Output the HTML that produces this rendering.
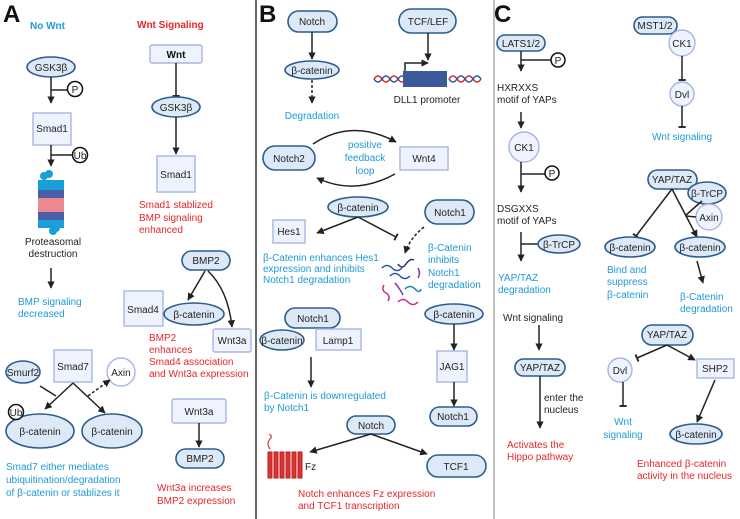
<!DOCTYPE html>
<html><head><meta charset="utf-8"><style>
html,body{margin:0;padding:0;background:#fff}
svg{display:block;font-family:"Liberation Sans",Arial,sans-serif}
.e{fill:#dde9f6;stroke:#2c5d8e;stroke-width:1.6}
.b{fill:#eef3fd;stroke:#a7b5e6;stroke-width:1.4}
.c{fill:#eef3fd;stroke:#a7b5e6;stroke-width:1.4}
.l{stroke:#222;stroke-width:1.5;fill:none}
.t{font-size:10px;fill:#222}
.bl{font-size:10px;fill:#1e9ad6}
.rd{font-size:10px;fill:#e8262a}
</style></head><body>
<svg width="740" height="519" viewBox="0 0 740 519" xmlns="http://www.w3.org/2000/svg">
<defs>
<marker id="a" viewBox="0 0 10 10" refX="9" refY="5" markerWidth="5" markerHeight="5" orient="auto"><path d="M0,0L10,5L0,10z" fill="#222"/></marker>
<marker id="t" viewBox="0 0 10 10" refX="5" refY="5" markerWidth="5" markerHeight="5" orient="auto"><path d="M5,0V10" stroke="#222" stroke-width="2.5"/></marker>
</defs>
<line x1="256" y1="0" x2="256" y2="519" stroke="#333" stroke-width="1.5"/>
<line x1="494" y1="0" x2="494" y2="519" stroke="#aaa" stroke-width="1.5"/>

<!-- Panel A -->
<text x="3" y="22" font-size="24" font-weight="bold" fill="#111">A</text>
<text x="30" y="29" font-size="10" font-weight="bold" fill="#1e9ad6">No Wnt</text>
<text x="137" y="28" font-size="10" font-weight="bold" fill="#e8262a">Wnt Signaling</text>
<ellipse class="e" cx="51" cy="67" rx="24" ry="10"/><text class="t" x="51" y="71" text-anchor="middle">GSK3β</text>
<line class="l" x1="51" y1="77" x2="51" y2="103" marker-end="url(#a)"/>
<line class="l" x1="51" y1="90" x2="68" y2="90"/>
<circle cx="75" cy="89" r="7.5" fill="#fff" stroke="#111" stroke-width="1.5"/><text class="t" x="75" y="93" text-anchor="middle">P</text>
<rect class="b" x="33" y="113" width="38" height="32"/><text class="t" x="52" y="132" text-anchor="middle">Smad1</text>
<line class="l" x1="51" y1="145" x2="51" y2="166" marker-end="url(#a)"/>
<line class="l" x1="51" y1="155" x2="72" y2="155"/>
<circle cx="80" cy="155" r="7.5" fill="#fff" stroke="#111" stroke-width="1.5"/><text class="t" x="80" y="159" text-anchor="middle">Ub</text>
<g>
<rect x="38" y="180" width="26" height="10" fill="#1aa0d8"/>
<rect x="38" y="190" width="26" height="8" fill="#4a5fa8"/>
<rect x="38" y="198" width="26" height="14" fill="#ee8a8f"/>
<rect x="38" y="212" width="26" height="8" fill="#4a5fa8"/>
<rect x="38" y="220" width="26" height="8" fill="#1aa0d8"/>
<circle cx="44" cy="176" r="4" fill="#1aa0d8"/><circle cx="49" cy="174" r="4" fill="#1aa0d8"/>
<circle cx="56" cy="228" r="4" fill="#1aa0d8"/><circle cx="53" cy="231" r="4" fill="#1aa0d8"/>
</g>
<text class="t" x="53" y="245" text-anchor="middle">Proteasomal</text>
<text class="t" x="53" y="257" text-anchor="middle">destruction</text>
<line class="l" x1="51" y1="268" x2="51" y2="288" marker-end="url(#a)"/>
<text class="bl" x="18" y="305">BMP signaling</text>
<text class="bl" x="18" y="317">decreased</text>

<rect class="b" x="150" y="45" width="52" height="18" rx="2"/><text x="176" y="58" font-size="10" font-weight="bold" fill="#111" text-anchor="middle">Wnt</text>
<line class="l" x1="176" y1="63" x2="176" y2="96" marker-end="url(#t)"/>
<ellipse class="e" cx="176" cy="107" rx="24" ry="10"/><text class="t" x="176" y="111" text-anchor="middle">GSK3β</text>
<line class="l" x1="176" y1="117" x2="176" y2="154" marker-end="url(#a)"/>
<rect class="b" x="157" y="156" width="38" height="36"/><text class="t" x="176" y="178" text-anchor="middle">Smad1</text>
<text class="rd" x="139" y="208">Smad1 stablized</text>
<text class="rd" x="139" y="221">BMP signaling</text>
<text class="rd" x="139" y="233">enhanced</text>

<rect class="e" x="182" y="251" width="48" height="19" rx="9.5"/><text class="t" x="206" y="264" text-anchor="middle">BMP2</text>
<rect class="b" x="124" y="291" width="39" height="35"/><text class="t" x="143" y="313" text-anchor="middle">Smad4</text>
<ellipse class="e" cx="194" cy="314" rx="30" ry="11"/><text class="t" x="194" y="318" text-anchor="middle">β-catenin</text>
<line class="l" x1="205" y1="271" x2="188" y2="300" marker-end="url(#a)"/>
<path class="l" d="M208,271 Q228,290 232,327" marker-end="url(#a)"/>
<rect class="b" x="213" y="329" width="38" height="23" rx="2"/><text class="t" x="232" y="344" text-anchor="middle">Wnt3a</text>
<text class="rd" x="149" y="341">BMP2</text>
<text class="rd" x="149" y="353">enhances</text>
<text class="rd" x="149" y="365">Smad4 association</text>
<text class="rd" x="149" y="377">and Wnt3a expression</text>
<rect class="b" x="172" y="399" width="54" height="24" rx="2"/><text class="t" x="199" y="415" text-anchor="middle">Wnt3a</text>
<line class="l" x1="199" y1="423" x2="199" y2="447" marker-end="url(#a)"/>
<rect class="e" x="176" y="449" width="48" height="19" rx="9.5"/><text class="t" x="200" y="462" text-anchor="middle">BMP2</text>
<text class="rd" x="157" y="491">Wnt3a increases</text>
<text class="rd" x="157" y="504">BMP2 expression</text>

<ellipse class="e" cx="23" cy="372" rx="17" ry="11"/><text class="t" x="23" y="376" text-anchor="middle">Smurf2</text>
<rect class="b" x="54" y="350" width="38" height="32"/><text class="t" x="73" y="370" text-anchor="middle">Smad7</text>
<circle cx="121" cy="372" r="14" fill="#fff" stroke="#a7b5e6" stroke-width="1.4"/><text class="t" x="121" y="376" text-anchor="middle">Axin</text>
<line class="l" x1="40" y1="386" x2="56" y2="396"/>
<line class="l" x1="73" y1="383" x2="45" y2="409" marker-end="url(#a)"/>
<line class="l" x1="73" y1="383" x2="105" y2="413" marker-end="url(#a)"/>
<line class="l" x1="88" y1="396" x2="110" y2="380" stroke-dasharray="3,2" marker-end="url(#a)"/>
<ellipse class="e" cx="40" cy="431" rx="34" ry="17"/><text class="t" x="40" y="435" text-anchor="middle">β-catenin</text>
<ellipse class="e" cx="112" cy="431" rx="30" ry="17"/><text class="t" x="112" y="435" text-anchor="middle">β-catenin</text>
<circle cx="16" cy="412" r="7.5" fill="#fff" stroke="#111" stroke-width="1.5"/><text class="t" x="16" y="416" text-anchor="middle">Ub</text>
<text class="bl" x="6" y="470" font-size="10.5">Smad7 either mediates</text>
<text class="bl" x="6" y="483" font-size="10.5">ubiquitination/degradation</text>
<text class="bl" x="6" y="496" font-size="10.5">of β-catenin or stablizes it</text>

<!-- Panel B -->
<text x="259" y="22" font-size="24" font-weight="bold" fill="#111">B</text>
<rect class="e" x="288" y="11" width="49" height="21" rx="10.5"/><text class="t" x="312" y="25" text-anchor="middle">Notch</text>
<line class="l" x1="312" y1="32" x2="312" y2="59" marker-end="url(#a)"/>
<ellipse class="e" cx="312" cy="70" rx="27" ry="9"/><text class="t" x="312" y="74" text-anchor="middle">β-catenin</text>
<line class="l" x1="312" y1="80" x2="312" y2="103" stroke-dasharray="3,2" marker-end="url(#a)"/>
<text class="bl" x="312" y="119" text-anchor="middle">Degradation</text>
<rect class="e" x="399" y="9" width="57" height="24" rx="12"/><text class="t" x="428" y="25" text-anchor="middle">TCF/LEF</text>
<line class="l" x1="428" y1="33" x2="428" y2="60" marker-end="url(#a)"/>
<path d="M374,79 q4,-6 8,0 t8,0 t8,0 t8,0 M449,79 q4,-6 8,0 t8,0 t8,0 t8,0" stroke="#d22" stroke-width="1.5" fill="none"/>
<path d="M374,79 q4,6 8,0 t8,0 t8,0 t8,0 M449,79 q4,6 8,0 t8,0 t8,0 t8,0" stroke="#2356a6" stroke-width="1.5" fill="none"/>
<rect x="403" y="71" width="44" height="16" fill="#3c5a99"/>
<path d="M405,71 V63 H428" class="l" stroke-width="1" marker-end="url(#a)"/>
<text class="t" x="427" y="103" text-anchor="middle" font-size="10.5">DLL1 promoter</text>
<rect class="e" x="263" y="146" width="52" height="24" rx="12"/><text class="t" x="289" y="162" text-anchor="middle">Notch2</text>
<rect class="b" x="400" y="147" width="48" height="23"/><text class="t" x="424" y="162" text-anchor="middle">Wnt4</text>
<path class="l" d="M313,144 Q352,118 396,142" marker-end="url(#a)"/>
<path class="l" d="M395,174 Q355,196 317,178" marker-end="url(#a)"/>
<text class="bl" x="365" y="148" text-anchor="middle">positive</text>
<text class="bl" x="365" y="161" text-anchor="middle">feedback</text>
<text class="bl" x="365" y="174" text-anchor="middle">loop</text>
<ellipse class="e" cx="358" cy="207" rx="30" ry="10"/><text class="t" x="358" y="211" text-anchor="middle">β-catenin</text>
<line class="l" x1="358" y1="217" x2="317" y2="233" marker-end="url(#a)"/>
<line class="l" x1="358" y1="217" x2="396" y2="237" marker-end="url(#t)"/>
<rect class="b" x="273" y="220" width="32" height="23"/><text class="t" x="289" y="235" text-anchor="middle">Hes1</text>
<rect class="e" x="425" y="200" width="49" height="24" rx="12"/><text class="t" x="450" y="216" text-anchor="middle">Notch1</text>
<path class="l" d="M424,227 Q410,238 405,253" stroke-dasharray="3,2" marker-end="url(#a)"/>
<text class="bl" x="428" y="251">β-Catenin</text>
<text class="bl" x="428" y="263">inhibits</text>
<text class="bl" x="428" y="276">Notch1</text>
<text class="bl" x="428" y="288">degradation</text>
<text class="bl" x="263" y="261" font-size="9">β-Catenin enhances Hes1</text>
<text class="bl" x="263" y="272" font-size="9">expression and inhibits</text>
<text class="bl" x="263" y="283" font-size="9">Notch1 degradation</text>
<g fill="none" stroke-width="1.5">
<path d="M382,268 q5,-5 10,0 t10,0" stroke="#2356a6"/>
<path d="M398,264 q4,6 8,0 t8,-4" stroke="#2a2a7a"/>
<path d="M390,276 q5,-5 10,0 t10,0" stroke="#2356a6"/>
<path d="M384,285 q-3,5 2,8 t2,8" stroke="#cc2a8a"/>
<path d="M395,283 q5,6 8,12" stroke="#7a3aa0"/>
<path d="M405,289 q5,-5 10,0 t6,0" stroke="#1a7fa8"/>
<path d="M398,302 q5,-5 10,0 t10,0" stroke="#cc2a8a"/>
<path d="M418,268 q3,5 0,10" stroke="#7a3aa0"/>
</g>
<rect class="e" x="285" y="308" width="55" height="20" rx="10"/><text class="t" x="313" y="322" text-anchor="middle">Notch1</text>
<rect class="b" x="316" y="329" width="45" height="21"/><text class="t" x="338" y="344" text-anchor="middle">Lamp1</text>
<ellipse class="e" cx="282" cy="340" rx="22" ry="10"/><text class="t" x="282" y="344" text-anchor="middle" font-size="9">β-catenin</text>
<line class="l" x1="311" y1="357" x2="311" y2="387" marker-end="url(#a)"/>
<text class="bl" x="264" y="399">β-Catenin is downregulated</text>
<text class="bl" x="264" y="411">by Notch1</text>
<ellipse class="e" cx="454" cy="314" rx="29" ry="10"/><text class="t" x="454" y="318" text-anchor="middle">β-catenin</text>
<line class="l" x1="454" y1="324" x2="454" y2="350" marker-end="url(#a)"/>
<rect class="b" x="437" y="351" width="30" height="31"/><text class="t" x="452" y="370" text-anchor="middle">JAG1</text>
<line class="l" x1="454" y1="382" x2="454" y2="406" marker-end="url(#a)"/>
<rect class="e" x="430" y="407" width="47" height="19" rx="9.5"/><text class="t" x="453" y="420" text-anchor="middle">Notch1</text>
<rect class="e" x="347" y="416" width="48" height="18" rx="9"/><text class="t" x="371" y="429" text-anchor="middle">Notch</text>
<line class="l" x1="371" y1="434" x2="310" y2="452" marker-end="url(#a)"/>
<line class="l" x1="371" y1="434" x2="427" y2="454" marker-end="url(#a)"/>
<g fill="#d33" stroke="#b22" stroke-width="1">
<rect x="268" y="452" width="4" height="26"/><rect x="274" y="452" width="4" height="26"/><rect x="280" y="452" width="4" height="26"/>
<rect x="286" y="452" width="4" height="26"/><rect x="292" y="452" width="4" height="26"/><rect x="298" y="452" width="4" height="26"/>
</g>
<path d="M270,449 q-4,-6 0,-10 q3,-3 -1,-5" stroke="#d33" fill="none" stroke-width="1.2"/>
<text class="t" x="305" y="470">Fz</text>
<rect class="e" x="427" y="455" width="59" height="22" rx="11"/><text class="t" x="456" y="470" text-anchor="middle">TCF1</text>
<text class="rd" x="298" y="497">Notch enhances Fz expression</text>
<text class="rd" x="298" y="509">and TCF1 transcription</text>

<!-- Panel C -->
<text x="494" y="22" font-size="24" font-weight="bold" fill="#111">C</text>
<rect class="e" x="497" y="35" width="48" height="16" rx="8"/><text class="t" x="521" y="47" text-anchor="middle" font-size="9">LATS1/2</text>
<line class="l" x1="521" y1="51" x2="521" y2="71" marker-end="url(#a)"/>
<line class="l" x1="521" y1="60" x2="551" y2="60"/>
<circle cx="558" cy="60" r="7" fill="#fff" stroke="#111" stroke-width="1.5"/><text class="t" x="558" y="64" text-anchor="middle" font-size="9">P</text>
<text class="t" x="497" y="91">HXRXXS</text>
<text class="t" x="497" y="103">motif of YAPs</text>
<line class="l" x1="521" y1="112" x2="521" y2="128" marker-end="url(#a)"/>
<circle class="c" cx="524" cy="147" r="15"/><text class="t" x="524" y="151" text-anchor="middle">CK1</text>
<line class="l" x1="521" y1="162" x2="521" y2="192" marker-end="url(#a)"/>
<line class="l" x1="521" y1="174" x2="545" y2="174"/>
<circle cx="552" cy="173" r="7" fill="#fff" stroke="#111" stroke-width="1.5"/><text class="t" x="552" y="177" text-anchor="middle" font-size="9">P</text>
<text class="t" x="497" y="212">DSGXXS</text>
<text class="t" x="497" y="224">motif of YAPs</text>
<line class="l" x1="521" y1="232" x2="521" y2="261" marker-end="url(#a)"/>
<line class="l" x1="521" y1="244" x2="538" y2="244"/>
<ellipse class="e" cx="559" cy="244" rx="21" ry="9"/><text class="t" x="559" y="248" text-anchor="middle" font-size="9">β-TrCP</text>
<text class="bl" x="498" y="281">YAP/TAZ</text>
<text class="bl" x="498" y="293">degradation</text>
<text class="t" x="503" y="321">Wnt signaling</text>
<line class="l" x1="539" y1="325" x2="539" y2="350" marker-end="url(#a)"/>
<rect class="e" x="515" y="359" width="50" height="17" rx="8.5"/><text class="t" x="540" y="371" text-anchor="middle" font-size="9">YAP/TAZ</text>
<line class="l" x1="540" y1="376" x2="540" y2="428" marker-end="url(#a)"/>
<text class="t" x="544" y="401" font-size="9.5">enter the</text>
<text class="t" x="544" y="413" font-size="9.5">nucleus</text>
<text class="rd" x="507" y="448">Activates the</text>
<text class="rd" x="507" y="460">Hippo pathway</text>

<rect class="e" x="634" y="17" width="43" height="17" rx="8.5"/><text class="t" x="655" y="29" text-anchor="middle" font-size="9">MST1/2</text>
<circle class="c" cx="682" cy="43" r="13"/><text class="t" x="682" y="47" text-anchor="middle" font-size="9">CK1</text>
<line class="l" x1="682" y1="56" x2="682" y2="80" marker-end="url(#t)"/>
<circle class="c" cx="682" cy="94" r="12"/><text class="t" x="682" y="98" text-anchor="middle" font-size="9">Dvl</text>
<line class="l" x1="682" y1="106" x2="682" y2="127" marker-end="url(#t)"/>
<text class="bl" x="682" y="140" text-anchor="middle">Wnt signaling</text>
<rect class="e" x="648" y="170" width="49" height="19" rx="9.5"/><text class="t" x="672" y="183" text-anchor="middle" font-size="9">YAP/TAZ</text>
<ellipse class="e" cx="707" cy="193" rx="19" ry="11"/><text class="t" x="707" y="197" text-anchor="middle" font-size="9">β-TrCP</text>
<circle class="c" cx="709" cy="217" r="13"/><text class="t" x="709" y="221" text-anchor="middle" font-size="9">Axin</text>
<line class="l" x1="672" y1="189" x2="636" y2="236" marker-end="url(#t)"/>
<line class="l" x1="672" y1="189" x2="697" y2="237" marker-end="url(#a)"/>
<line class="l" x1="686" y1="215" x2="702" y2="201"/>
<line class="l" x1="686" y1="216" x2="696" y2="217"/>
<ellipse class="e" cx="630" cy="247" rx="25" ry="10"/><text class="t" x="630" y="251" text-anchor="middle" font-size="9">β-catenin</text>
<ellipse class="e" cx="700" cy="247" rx="25" ry="10"/><text class="t" x="700" y="251" text-anchor="middle" font-size="9">β-catenin</text>
<text class="bl" x="607" y="273">Bind and</text>
<text class="bl" x="607" y="285">suppress</text>
<text class="bl" x="607" y="298">β-catenin</text>
<line class="l" x1="697" y1="261" x2="703" y2="283" marker-end="url(#a)"/>
<text class="bl" x="680" y="300">β-Catenin</text>
<text class="bl" x="680" y="312">degradation</text>
<rect class="e" x="642" y="325" width="51" height="20" rx="10"/><text class="t" x="667" y="338" text-anchor="middle" font-size="9">YAP/TAZ</text>
<line class="l" x1="667" y1="345" x2="637" y2="358" marker-end="url(#t)"/>
<line class="l" x1="667" y1="345" x2="695" y2="360" marker-end="url(#a)"/>
<circle class="c" cx="620" cy="370" r="12"/><text class="t" x="620" y="374" text-anchor="middle" font-size="9">Dvl</text>
<rect class="b" x="697" y="359" width="37" height="19"/><text class="t" x="715" y="372" text-anchor="middle" font-size="9">SHP2</text>
<line class="l" x1="623" y1="382" x2="623" y2="406" marker-end="url(#t)"/>
<text class="bl" x="623" y="425" text-anchor="middle">Wnt</text>
<text class="bl" x="623" y="438" text-anchor="middle">signaling</text>
<line class="l" x1="715" y1="380" x2="697" y2="422" marker-end="url(#a)"/>
<ellipse class="e" cx="696" cy="434" rx="26" ry="10"/><text class="t" x="696" y="438" text-anchor="middle" font-size="9">β-catenin</text>
<text class="rd" x="637" y="467">Enhanced β-catenin</text>
<text class="rd" x="637" y="479">activity in the nucleus</text>
</svg>
</body></html>
